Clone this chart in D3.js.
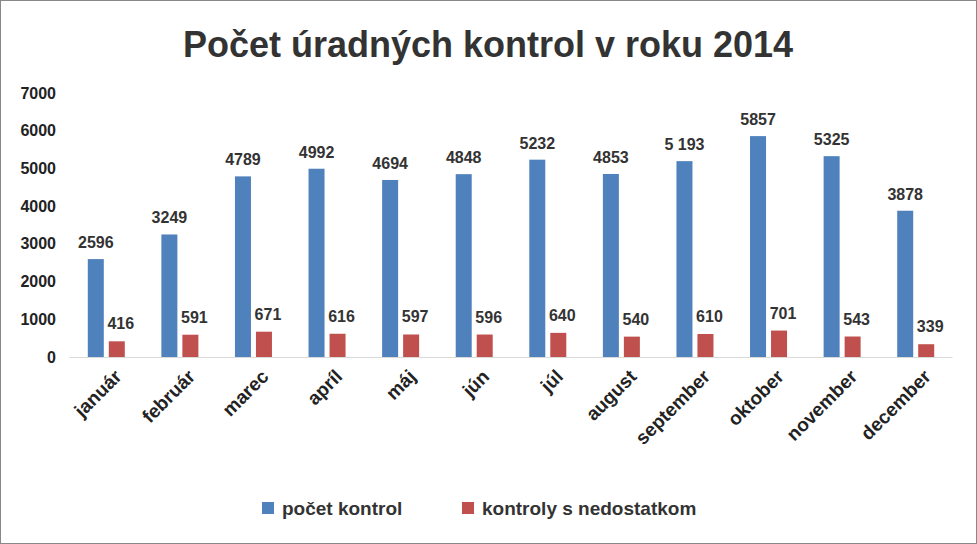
<!DOCTYPE html>
<html><head><meta charset="utf-8">
<script src="https://cdn.jsdelivr.net/npm/d3@7"></script>
<style>body{margin:0;background:#fff}svg{display:block}text{font-family:"Liberation Sans",Arial,sans-serif}</style>
</head><body>
<svg id="c" width="977" height="544"></svg>
<script>
const months=["január","február","marec","apríl","máj","jún","júl","august","september","oktober","november","december"];
const pocet=[2596,3249,4789,4992,4694,4848,5232,4853,5193,5857,5325,3878];
const pocetLabels=["2596","3249","4789","4992","4694","4848","5232","4853","5 193","5857","5325","3878"];
const nedost=[416,591,671,616,597,596,640,540,610,701,543,339];
const yTicks=[0,1000,2000,3000,4000,5000,6000,7000];
const seriesNames=["počet kontrol","kontroly s nedostatkom"];
const colors=["#4F81BD","#C0504D"];

const svg=d3.select("#c");
svg.append("rect").attr("x",0.5).attr("y",0.5).attr("width",976).attr("height",543).attr("fill","#fff").attr("stroke","#888");
svg.append("text").attr("x",488).attr("y",57).attr("text-anchor","middle").attr("font-size",36).attr("font-weight","bold").attr("fill","#333").text("Počet úradných kontrol v roku 2014");

const x=d3.scaleBand().domain(months).range([69,952]);
const y=d3.scaleLinear().domain([0,7000]).range([357,93]);
const ya=svg.append("g").attr("transform","translate(62,0)").call(d3.axisLeft(y).tickValues(yTicks).tickFormat(d3.format("d")).tickSize(0).tickPadding(6));
ya.select(".domain").remove();
ya.selectAll("text").attr("font-size",16).attr("font-weight","bold").attr("fill","#222").style("font-family","Liberation Sans");

const xa=svg.append("g").attr("transform","translate(0,357)").call(d3.axisBottom(x).tickSize(0));
xa.select(".domain").attr("stroke","#d9d9d9");
xa.selectAll("text").attr("font-size",19).attr("font-weight","bold").attr("fill","#222").style("font-family","Liberation Sans")
  .attr("text-anchor","end").attr("transform","translate(10,14) rotate(-45)").attr("dy","0.35em");

const bw=16, off=[-18,3];
[pocet,nedost].forEach((vals,s)=>{
  svg.append("g").selectAll("rect").data(vals).join("rect")
    .attr("x",(d,i)=>x(months[i])+x.bandwidth()/2+off[s]).attr("width",bw)
    .attr("y",d=>y(d)).attr("height",d=>357-y(d)).attr("fill",colors[s]);
  svg.append("g").selectAll("text").data(vals).join("text")
    .attr("x",(d,i)=>x(months[i])+x.bandwidth()/2+off[s]+bw/2+(s?4:0)).attr("y",d=>y(d)-(s?12:11))
    .attr("text-anchor","middle").attr("font-size",16).attr("font-weight","bold").attr("fill","#333")
    .text((d,i)=>s?d:pocetLabels[i]);
});

const lg=svg.append("g");
[[262,seriesNames[0]],[462,seriesNames[1]]].forEach(([lx,t],i)=>{
  lg.append("rect").attr("x",lx).attr("y",502).attr("width",12).attr("height",12).attr("fill",colors[i]);
  lg.append("text").attr("x",lx+20).attr("y",515).attr("font-size",19).attr("font-weight","bold").attr("fill","#333").text(t);
});
</script></body></html>
